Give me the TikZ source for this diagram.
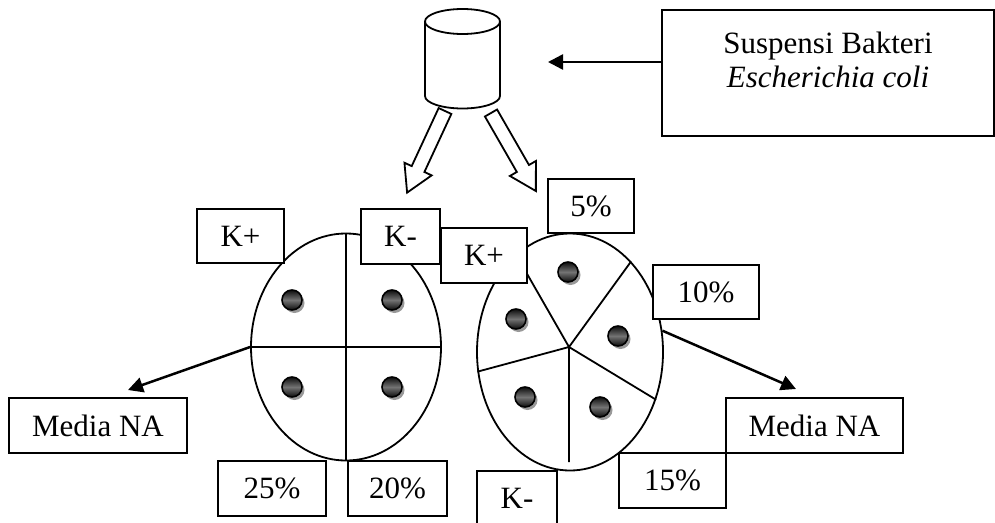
\documentclass[tikz,border=0pt]{standalone}
\usepackage{fontspec}
\setmainfont{Liberation Serif}
\usetikzlibrary{arrows.meta,shapes.geometric}

\begin{document}
\begin{tikzpicture}[x=1pt,y=-1pt,
  every node/.style={font=\fontsize{31}{34}\selectfont,align=center},
  labelbox/.style={draw,fill=white,line width=1.8pt,inner sep=0pt},
  plate/.style={draw,ellipse,line width=1.8pt,inner sep=0pt},
  pointer/.style={line width=2.5pt,-{Triangle[length=15pt,width=15pt]}},
  pics/blockarrow/.style={code={\draw[line width=1.8pt,fill=white] (0,-7) -- (64,-7) -- (64,-15) -- (90,0) -- (64,15) -- (64,7) -- (0,7) -- cycle;}},
  pics/colony/.style={code={\fill[black!40] (2.5,3) circle (10); \shade[top color=black!95,bottom color=black!95,middle color=black!55,draw=black,line width=1.6pt] (0,0) circle (10);}}]
\useasboundingbox (0,0) rectangle (995,522);
% tube of bacterial suspension
\draw[line width=1.8pt,fill=white] (425,21.5) -- (425,96) arc[start angle=180,end angle=0,x radius=37.5,y radius=12.5] -- (500,21.5);
\draw[line width=1.8pt] (462.5,21.5) ellipse[x radius=37.5,y radius=12.5];
\coordinate (pour) at (548,62);
\pic[rotate=-114.9] at (445,111) {blockarrow};
\pic[rotate=-60.1] at (491,113) {blockarrow};
% plates
\node[plate,minimum width=190pt,minimum height=227pt] (plateA) at (346,347) {};
\node[plate,minimum width=186pt,minimum height=237pt] (plateB) at (570,352) {};
\draw[line width=1.8pt] (plateA.north) -- (plateA.south) (plateA.west) -- (plateA.east);
\coordinate (hub) at (569,347);
\draw[line width=1.8pt] (hub) -- (plateB.119) (hub) -- (plateB.56) (hub) -- (plateB.-29) (hub) -- (569,462) (hub) -- (plateB.192);
\foreach \x/\y in {292/300,392/300,292/387,392/387,568/272,516/319,618/336,525/397,600/407} \pic at (\x,\y) {colony};
% labels
\node[labelbox,minimum width=332pt,minimum height=126pt] (susp) at (828,73) {Suspensi Bakteri\\\textit{Escherichia coli}\\[-8pt]\mbox{}};
\node[labelbox,minimum width=87pt,minimum height=54pt] (kplusA) at (240.5,236) {K+};
\node[labelbox,minimum width=79pt,minimum height=55pt] (kminA) at (400.5,236.5) {K-};
\node[labelbox,minimum width=108pt,minimum height=55pt] (pctA25) at (272,488.5) {25\%};
\node[labelbox,minimum width=99pt,minimum height=55pt] (pctA20) at (397.5,488.5) {20\%};
\node[labelbox,minimum width=178pt,minimum height=55pt] (mediaA) at (98,425.5) {Media NA};
\node[labelbox,minimum width=86pt,minimum height=54pt] (pctB5) at (591,206) {5\%};
\node[labelbox,minimum width=86pt,minimum height=55pt] (kplusB) at (484,255.5) {K+};
\node[labelbox,minimum width=106pt,minimum height=54pt] (pctB10) at (706,292) {10\%};
\node[labelbox,minimum width=107pt,minimum height=55pt] (pctB15) at (672.5,480.5) {15\%};
\node[labelbox,minimum width=177pt,minimum height=55pt] (mediaB) at (814.5,425.5) {Media NA};
\node[labelbox,minimum width=80pt,minimum height=55pt] (kminB) at (517,498.5) {K-};
\coordinate (dropA) at (128,390);
\coordinate (dropB) at (796,389);
\draw[pointer] ([yshift=11pt]susp.west) -- (pour);
\draw[pointer] (plateA.west) -- (dropA);
\draw[pointer] (plateB.13) -- (dropB);
\end{tikzpicture}
\end{document}
